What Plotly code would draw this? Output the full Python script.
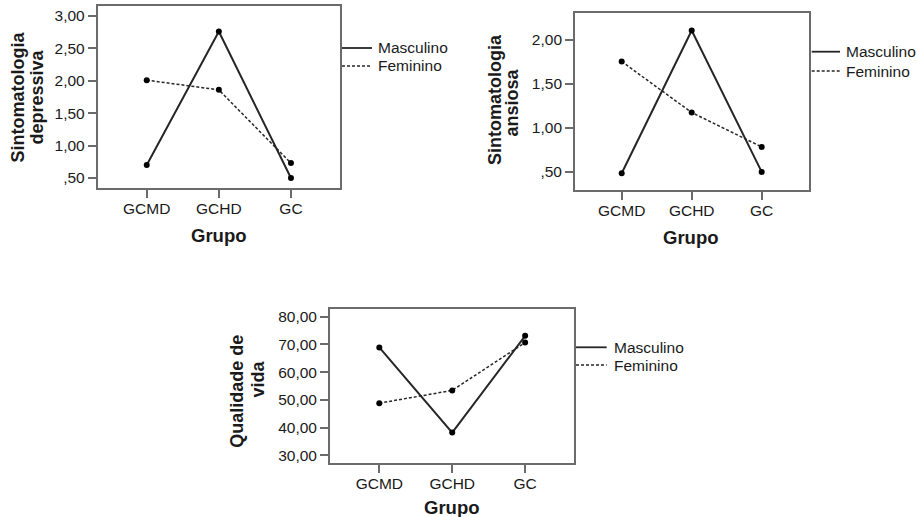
import plotly.graph_objects as go

W, H = 917, 517

categories = ["GCMD", "GCHD", "GC"]
series_names = ["Masculino", "Feminino"]

dep_masc = [0.70, 2.76, 0.50]
dep_fem = [2.01, 1.86, 0.73]
dep_ticks = [0.5, 1.0, 1.5, 2.0, 2.5, 3.0]
dep_ticklabels = [",50", "1,00", "1,50", "2,00", "2,50", "3,00"]

ans_masc = [0.485, 2.105, 0.50]
ans_fem = [1.753, 1.174, 0.784]
ans_ticks = [0.5, 1.0, 1.5, 2.0]
ans_ticklabels = [",50", "1,00", "1,50", "2,00"]

qv_masc = [68.9, 38.2, 73.1]
qv_fem = [48.8, 53.4, 70.7]
qv_ticks = [30, 40, 50, 60, 70, 80]
qv_ticklabels = ["30,00", "40,00", "50,00", "60,00", "70,00", "80,00"]

FONT = "Liberation Sans, Arial, sans-serif"
TXT = "#1a1a1a"
BOX = "#6b6b6b"

def px_x(x):
    return x / W

def px_y(y):
    return 1 - y / H

panels = [
    dict(masc=dep_masc, fem=dep_fem, ticks=dep_ticks, labels=dep_ticklabels,
         xdom=(97.7, 340), ydom=(6, 188), yr=(0.346, 3.154), xr=(-0.68, 2.68),
         title=[("Sintomatologia", 17.5, 97), ("depressiva", 36.5, 97)],
         grupo=(219, 235), leg=(342, 372, 376, 48, 66)),
    dict(masc=ans_masc, fem=ans_fem, ticks=ans_ticks, labels=ans_ticklabels,
         xdom=(575, 809), ydom=(13.3, 190), yr=(0.295, 2.30), xr=(-0.667, 2.676),
         title=[("Sintomatologia", 495, 100), ("ansiosa", 511, 102.5)],
         grupo=(691.3, 237), leg=(811.7, 840, 844, 51.7, 71)),
    dict(masc=qv_masc, fem=qv_fem, ticks=qv_ticks, labels=qv_ticklabels,
         xdom=(330, 574), ydom=(309, 463.3), yr=(27.1, 82.78), xr=(-0.676, 2.67),
         title=[("Qualidade de", 236.7, 391), ("vida", 257.5, 379)],
         grupo=(451.7, 507), leg=(576, 606.7, 611.7, 347.3, 365)),
]

fig = go.Figure()
annotations = []
shapes = []
xidx = list(range(len(categories)))

for i, p in enumerate(panels, start=1):
    sx = "" if i == 1 else str(i)
    xa, ya = "x" + sx, "y" + sx
    fig.add_trace(go.Scatter(
        x=xidx, y=p["masc"], mode="lines+markers", name=series_names[0],
        line=dict(color="#262626", width=2), marker=dict(color="#000", size=6),
        xaxis=xa, yaxis=ya, showlegend=False))
    fig.add_trace(go.Scatter(
        x=xidx, y=p["fem"], mode="lines+markers", name=series_names[1],
        line=dict(color="#262626", width=1.5, dash="3px,2px"),
        marker=dict(color="#000", size=6),
        xaxis=xa, yaxis=ya, showlegend=False))
    common = dict(showline=True, linecolor=BOX, linewidth=1.8, mirror=True,
                  ticks="outside", ticklen=8, tickcolor=BOX, tickwidth=1.5,
                  showgrid=False, zeroline=False,
                  tickfont=dict(family=FONT, size=15.5, color=TXT))
    fig.layout["xaxis" + sx] = dict(
        domain=[px_x(p["xdom"][0]), px_x(p["xdom"][1])], range=list(p["xr"]),
        anchor=ya, tickmode="array", tickvals=xidx, ticktext=categories,
        ticklabelstandoff=-3, **common)
    fig.layout["yaxis" + sx] = dict(
        domain=[px_y(p["ydom"][1]), px_y(p["ydom"][0])], range=list(p["yr"]),
        anchor=xa, tickmode="array", tickvals=p["ticks"], ticktext=p["labels"], **common)
    for text, cx, cy in p["title"]:
        annotations.append(dict(text="<b>%s</b>" % text, x=px_x(cx), y=px_y(cy),
                                xref="paper", yref="paper", showarrow=False,
                                textangle=-90, xanchor="center", yanchor="middle",
                                font=dict(family=FONT, size=18, color=TXT)))
    gx, gy = p["grupo"]
    annotations.append(dict(text="<b>Grupo</b>", x=px_x(gx), y=px_y(gy),
                            xref="paper", yref="paper", showarrow=False,
                            xanchor="center", yanchor="middle",
                            font=dict(family=FONT, size=18.5, color=TXT)))
    lx0, lx1, tx, y1, y2 = p["leg"]
    for name, yy, dash, lw in [(series_names[0], y1, "solid", 1.8), (series_names[1], y2, "3px,2px", 1.4)]:
        shapes.append(dict(type="line", xref="paper", yref="paper",
                           x0=px_x(lx0), x1=px_x(lx1), y0=px_y(yy), y1=px_y(yy),
                           line=dict(color="#262626", width=lw, dash=dash)))
        annotations.append(dict(text=name, x=px_x(tx), y=px_y(yy), xref="paper", yref="paper",
                                showarrow=False, xanchor="left", yanchor="middle",
                                font=dict(family=FONT, size=15.5, color=TXT)))

fig.update_layout(width=W, height=H, margin=dict(l=0, r=0, t=0, b=0),
                  paper_bgcolor="white", plot_bgcolor="white",
                  annotations=annotations, shapes=shapes, showlegend=False)

fig.write_html("out.html", config={"displayModeBar": False},
               post_script="document.body.style.margin='0';document.body.style.overflow='hidden';")
